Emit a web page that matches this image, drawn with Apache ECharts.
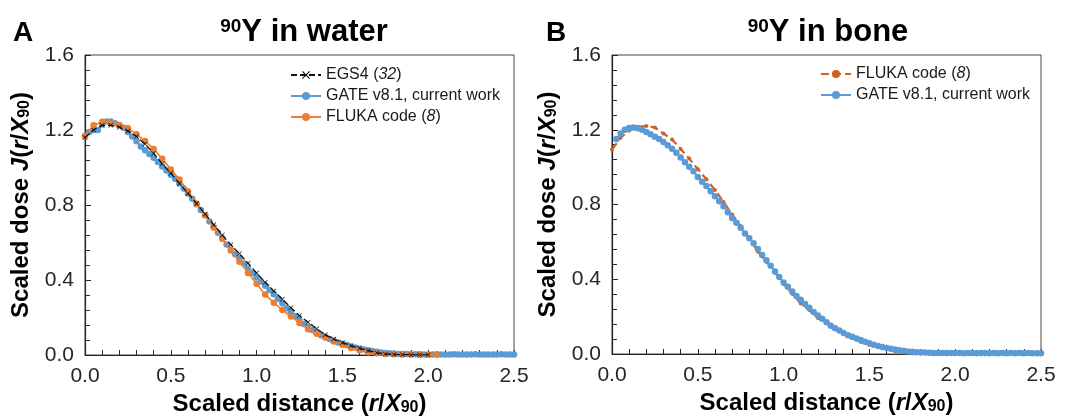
<!DOCTYPE html>
<html><head><meta charset="utf-8">
<script src="https://cdn.jsdelivr.net/npm/echarts@6/dist/echarts.min.js"></script>
<style>html,body{margin:0;padding:0;background:#fff}#c{width:1068px;height:417px}</style>
</head><body><div id="c"></div>
<script>
// ---- Data (x sampled at fixed steps starting from x0) ----
const xTicks = [0.0, 0.5, 1.0, 1.5, 2.0, 2.5];
const yTicks = [0.0, 0.4, 0.8, 1.2, 1.6];

// Panel A: 90Y in water
const waterGateX0 = 0, waterGateStep = 0.025;
const waterGate = [1.168,1.190,1.200,1.200,1.230,1.245,1.245,1.236,1.225,1.212,1.190,1.166,1.140,1.112,1.092,1.072,1.052,1.030,1.006,0.984,
0.961,0.940,0.915,0.888,0.862,0.834,0.804,0.774,0.745,0.712,0.682,0.652,0.622,0.590,0.560,0.537,0.515,0.488,0.462,0.438,
0.415,0.392,0.370,0.347,0.324,0.300,0.276,0.250,0.228,0.207,0.186,0.166,0.150,0.134,0.119,0.106,0.096,0.086,0.076,0.067,
0.060,0.053,0.046,0.040,0.035,0.030,0.026,0.022,0.018,0.014,0.011,0.009,0.007,0.006,0.005,0.005,0.004,0.004,0.004,0.003,
0.003,0.003,0.004,0.003,0.003,0.003,0.004,0.003,0.003,0.003,0.003,0.004,0.003,0.003,0.003,0.003,0.003,0.004,0.003,0.003,0.003];
const waterFlukaX0 = 0, waterFlukaStep = 0.05;
const waterFluka = [1.168,1.225,1.244,1.237,1.227,1.210,1.177,1.141,1.099,1.047,0.990,0.936,0.873,0.808,0.745,0.680,0.620,0.558,0.497,0.438,
0.380,0.323,0.279,0.240,0.206,0.171,0.138,0.113,0.094,0.072,0.055,0.038,0.025,0.015,0.009,0.006,0.004,0.003,0.003,0.002,0.002,0.002];
const waterEgsX0 = 0, waterEgsStep = 0.05;
const waterEgs = [1.160,1.200,1.225,1.225,1.215,1.195,1.165,1.125,1.075,1.020,0.970,0.915,0.862,0.808,0.752,0.695,0.640,0.588,0.540,0.490,
0.437,0.388,0.342,0.298,0.252,0.210,0.175,0.140,0.108,0.085,0.066,0.050,0.036,0.024,0.012,0.006,0.003,0.002,0.001,0.001,0.001];

// Panel B: 90Y in bone
const boneFlukaX0 = 0, boneFlukaStep = 0.05;
const boneFluka = [1.094,1.157,1.196,1.216,1.220,1.212,1.180,1.148,1.097,1.046,0.990,0.935,0.878,0.814,0.747,0.683,0.620,0.548,0.493,0.436,
0.375,0.322,0.270,0.235,0.193,0.166,0.136,0.110,0.085,0.064,0.049,0.038,0.026,0.015,0.008,0.003,0.001];
const boneGateX0 = 0.025, boneGateStep = 0.025;
const boneGate = [1.150,1.180,1.200,1.210,1.212,1.208,1.200,1.188,1.176,1.163,1.150,1.134,1.117,1.098,1.077,1.052,1.026,1.002,0.978,0.947,
0.922,0.899,0.871,0.844,0.817,0.790,0.758,0.728,0.702,0.675,0.645,0.620,0.592,0.562,0.530,0.502,0.472,0.442,0.412,0.383,
0.360,0.335,0.311,0.290,0.268,0.247,0.225,0.206,0.188,0.170,0.151,0.138,0.126,0.113,0.101,0.092,0.083,0.075,0.066,0.058,
0.050,0.043,0.037,0.032,0.028,0.024,0.020,0.017,0.014,0.012,0.010,0.009,0.008,0.007,0.006,0.006,0.005,0.005,0.005,0.005,
0.005,0.004,0.005,0.005,0.004,0.005,0.005,0.004,0.005,0.004,0.005,0.004,0.005,0.004,0.005,0.004,0.005,0.004,0.004,0.004];

function pts(x0, step, ys){ return ys.map((y,i)=>[+(x0+i*step).toFixed(4), y]); }

const FONT = '"Liberation Sans", Arial, sans-serif';
const AX = '#262626';
const crossPath = 'path://M0,1 L1,0 L5,4 L9,0 L10,1 L6,5 L10,9 L9,10 L5,6 L1,10 L0,9 L4,5 Z';

const nameRich = {
  b:{fontFamily:FONT,fontWeight:'bold',fontSize:24,color:'#000'},
  bi:{fontFamily:FONT,fontWeight:'bold',fontStyle:'italic',fontSize:24,color:'#000'},
  sub:{fontFamily:FONT,fontWeight:'bold',fontSize:16,color:'#000',verticalAlign:'bottom',padding:[7,0,0,0]}
};
const titleRich = {
  sup:{fontFamily:FONT,fontWeight:'bold',fontSize:19,color:'#000',verticalAlign:'top',padding:[0,0,12,0]},
  t:{fontFamily:FONT,fontWeight:'bold',fontSize:31,color:'#000'}
};
const legRich = {
  n:{fontFamily:FONT,fontSize:16,color:'#1a1a1a'},
  i:{fontFamily:FONT,fontSize:16,fontStyle:'italic',color:'#1a1a1a'}
};
const legendFmt = {
  'EGS4 (32)':'{n|EGS4 (}{i|32}{n|)}',
  'GATE v8.1, current work':'{n|GATE v8.1, current work}',
  'FLUKA code (8)':'{n|FLUKA code (}{i|8}{n|)}'
};

function xAxis(gi){
  return {type:'value',gridIndex:gi,min:0,max:2.5,interval:0.5,
    axisLine:{show:true,lineStyle:{color:AX,width:1.2}},
    axisTick:{show:true,inside:true,length:5,lineStyle:{color:AX}},
    minorTick:{show:true,splitNumber:5,length:5,lineStyle:{color:AX}},
    splitLine:{show:false},
    axisLabel:{fontFamily:FONT,fontSize:21,color:'#262626',margin:11,formatter:v=>v.toFixed(1)},
    name:'{b|Scaled distance (}{bi|r}{b|/}{bi|X}{sub|90}{b|)}',nameLocation:'middle',nameGap:36,
    nameTextStyle:{rich:nameRich}};
}
function yAxis(gi){
  return {type:'value',gridIndex:gi,min:0,max:1.6,interval:0.4,
    axisLine:{show:true,lineStyle:{color:AX,width:1.2}},
    axisTick:{show:true,inside:true,length:6,lineStyle:{color:AX}},
    minorTick:{show:true,splitNumber:5,length:5,lineStyle:{color:AX}},
    splitLine:{show:false},
    axisLabel:{fontFamily:FONT,fontSize:21,color:'#262626',margin:11,formatter:v=>v.toFixed(1)},
    name:'{b|Scaled dose }{bi|J}{b|(}{bi|r}{b|/}{bi|X}{sub|90}{b|)}',nameLocation:'middle',nameGap:52,
    nameTextStyle:{rich:nameRich}};
}

const chart = echarts.init(document.getElementById('c'), null, {renderer:'canvas'});
chart.setOption({
  backgroundColor:'#fff',
  animation:false,
  title:[
    {text:'A',left:8,top:14,textStyle:{fontFamily:FONT,fontWeight:'bold',fontSize:28,color:'#000'}},
    {text:'B',left:541,top:14,textStyle:{fontFamily:FONT,fontWeight:'bold',fontSize:28,color:'#000'}},
    {text:'{sup|90}{t|Y in water}',left:299,textAlign:'center',top:12,textStyle:{rich:titleRich}},
    {text:'{sup|90}{t|Y in bone}',left:823,textAlign:'center',top:12,textStyle:{rich:titleRich}}
  ],
  grid:[
    {left:85,right:554,top:55,bottom:62,outerBoundsMode:'none',containLabel:false,show:true,borderColor:'#444',borderWidth:1,backgroundColor:'transparent'},
    {left:612,right:27,top:55,bottom:63,outerBoundsMode:'none',containLabel:false,show:true,borderColor:'#444',borderWidth:1,backgroundColor:'transparent'}
  ],
  xAxis:[xAxis(0),xAxis(1)],
  yAxis:[yAxis(0),yAxis(1)],
  legend:[
    {orient:'vertical',left:285,top:62,itemWidth:30,itemHeight:10,itemGap:5,
     data:['EGS4 (32)','GATE v8.1, current work','FLUKA code (8)'].map(n=>({name:n})),
     formatter:n=>legendFmt[n],textStyle:{rich:legRich,lineHeight:14}},
    {orient:'vertical',left:815,top:61,itemWidth:30,itemHeight:10,itemGap:5,
     data:[{name:'FLUKA code (8) '},{name:'GATE v8.1, current work '}],
     formatter:n=>legendFmt[n.trim()],textStyle:{rich:legRich,lineHeight:14}}
  ],
  series:[
    {name:'GATE v8.1, current work',type:'line',xAxisIndex:0,yAxisIndex:0,data:pts(waterGateX0,waterGateStep,waterGate),
     symbol:'circle',symbolSize:6.5,showSymbol:true,lineStyle:{color:'#5B9BD5',width:1.5},itemStyle:{color:'#5B9BD5'},z:2},
    {name:'FLUKA code (8)',type:'line',xAxisIndex:0,yAxisIndex:0,data:pts(waterFlukaX0,waterFlukaStep,waterFluka),
     symbol:'circle',symbolSize:6.5,lineStyle:{color:'#ED7D31',width:1.6},itemStyle:{color:'#ED7D31'},z:3},
    {name:'EGS4 (32)',type:'line',xAxisIndex:0,yAxisIndex:0,data:pts(waterEgsX0,waterEgsStep,waterEgs),
     symbol:crossPath,symbolSize:5,lineStyle:{color:'#111',width:1.3,type:[6,3]},itemStyle:{color:'#111'},z:4},
    {name:'FLUKA code (8) ',type:'line',xAxisIndex:1,yAxisIndex:1,data:pts(boneFlukaX0,boneFlukaStep,boneFluka),
     symbol:'circle',symbolSize:4,lineStyle:{color:'#D2601E',width:2.2,type:[8,4]},itemStyle:{color:'#D2601E'},z:2},
    {name:'GATE v8.1, current work ',type:'line',xAxisIndex:1,yAxisIndex:1,data:pts(boneGateX0,boneGateStep,boneGate),
     symbol:'circle',symbolSize:6.5,lineStyle:{color:'#5B9BD5',width:1.5},itemStyle:{color:'#5B9BD5'},z:3}
  ]
});
</script></body></html>
